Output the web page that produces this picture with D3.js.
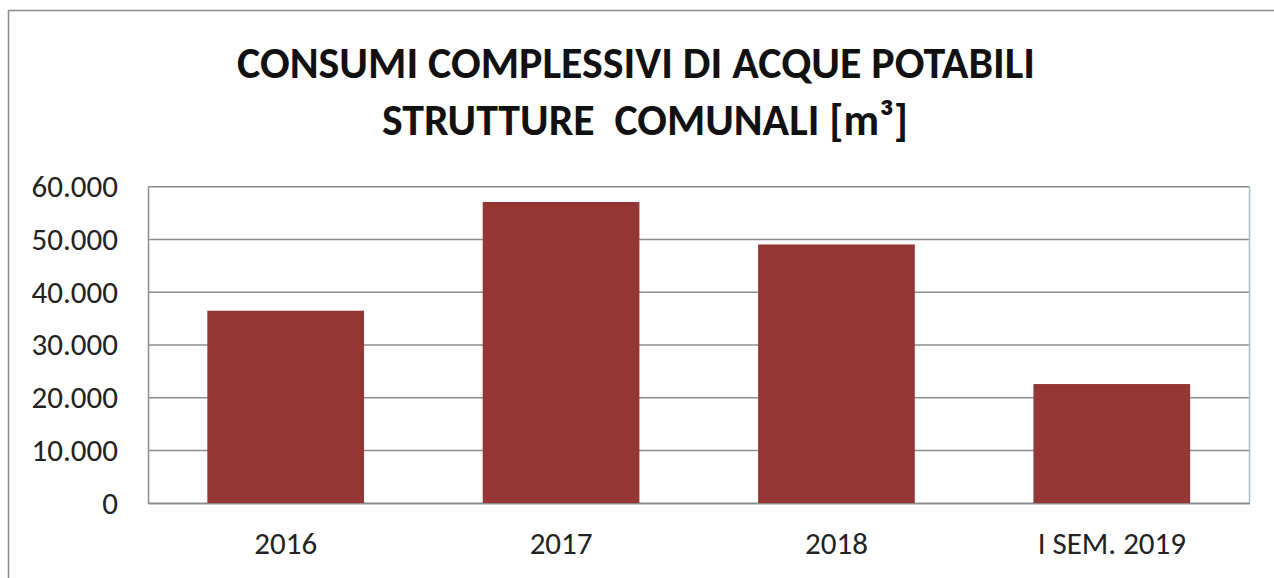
<!DOCTYPE html>
<html>
<head>
<meta charset="utf-8">
<script src="https://d3js.org/d3.v7.min.js"></script>
<style>
body { margin: 0; background: #ffffff; }
svg { font-family: Carlito, Calibri, Lato, sans-serif; }
</style>
</head>
<body>
<svg id="chart" width="1274" height="578"></svg>
<script>
var categories = ["2016", "2017", "2018", "I SEM. 2019"];
var values = [36500, 57100, 49050, 22600];
var yTicks = [0, 10000, 20000, 30000, 40000, 50000, 60000];
var titleLines = ["CONSUMI COMPLESSIVI DI ACQUE POTABILI", "STRUTTURE  COMUNALI [m\u00B3]"];

var svg = d3.select("#chart");
var plot = { left: 148, right: 1249.5, top: 186.7, bottom: 503.3 };

// outer chart frame (right/bottom edges fall outside the picture)
svg.append("rect")
  .attr("x", 8.5).attr("y", 10.5)
  .attr("width", 1300).attr("height", 600)
  .attr("fill", "none")
  .attr("stroke", "#8a8a8a")
  .attr("stroke-width", 1.5);

// title
var title = svg.append("g");
title.selectAll("text")
  .data(titleLines)
  .enter().append("text")
  .attr("x", function(d, i) { return i == 0 ? 636 : 645; })
  .attr("y", function(d, i) { return 78 + i * 57; })
  .attr("text-anchor", "middle")
  .attr("font-weight", "bold")
  .attr("font-size", 45)
  .attr("fill", "#111")
  .attr("textLength", function(d, i) { return i == 0 ? 798 : 526; })
  .attr("lengthAdjust", "spacingAndGlyphs")
  .style("white-space", "pre")
  .text(function(d) { return d; });

var x = d3.scaleBand()
  .domain(categories)
  .range([plot.left, plot.right])
  .paddingInner(0.431)
  .paddingOuter(0.2155);

var y = d3.scaleLinear()
  .domain([0, 60000])
  .range([plot.bottom, plot.top]);

var fmt = function(v) { return d3.format(",")(v).replace(/,/g, "."); };

// gridlines
svg.append("g")
  .selectAll("line")
  .data(yTicks)
  .enter().append("line")
  .attr("x1", plot.left).attr("x2", plot.right)
  .attr("y1", function(d) { return y(d); })
  .attr("y2", function(d) { return y(d); })
  .attr("stroke", "#8c8c8c")
  .attr("stroke-width", 1.5);

// right edge of plot area
svg.append("line")
  .attr("x1", plot.right).attr("x2", plot.right)
  .attr("y1", plot.top).attr("y2", plot.bottom)
  .attr("stroke", "#a9bcc2")
  .attr("stroke-width", 1.5);

// bars
svg.append("g")
  .selectAll("rect")
  .data(values)
  .enter().append("rect")
  .attr("x", function(d, i) { return x(categories[i]); })
  .attr("y", function(d) { return y(d); })
  .attr("width", x.bandwidth())
  .attr("height", function(d) { return y(0) - y(d); })
  .attr("fill", "#943634");

// y axis
var yAxis = d3.axisLeft(y)
  .tickValues(yTicks)
  .tickFormat(fmt)
  .tickSize(0)
  .tickPadding(30);

var gy = svg.append("g")
  .attr("transform", "translate(" + plot.left + ",0)")
  .call(yAxis);
gy.select(".domain").attr("stroke", "#8c8c8c").attr("stroke-width", 1.5);
gy.selectAll("text")
  .attr("font-family", "Carlito, Calibri, Lato, sans-serif")
  .attr("font-size", 31)
  .attr("fill", "#222");

// x axis
var xAxis = d3.axisBottom(x)
  .tickSize(0)
  .tickPadding(29);

var gx = svg.append("g")
  .attr("transform", "translate(0," + plot.bottom + ")")
  .call(xAxis);
gx.select(".domain").attr("stroke", "#8c8c8c").attr("stroke-width", 1.5);
gx.selectAll("text")
  .attr("font-family", "Carlito, Calibri, Lato, sans-serif")
  .attr("font-size", 31)
  .attr("fill", "#222");
</script>
</body>
</html>
